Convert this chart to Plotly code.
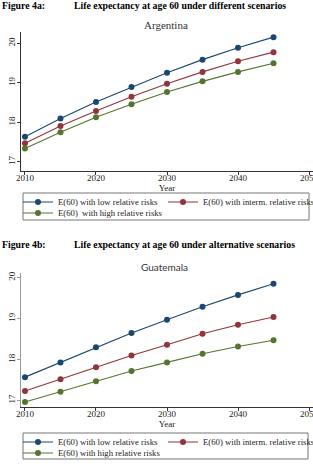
import plotly.graph_objects as go

W, H = 313, 469

years = [2010, 2015, 2020, 2025, 2030, 2035, 2040, 2045]

arg_low = [17.64, 18.10, 18.52, 18.90, 19.26, 19.59, 19.89, 20.16]
arg_mid = [17.47, 17.91, 18.29, 18.65, 18.98, 19.28, 19.55, 19.78]
arg_high = [17.34, 17.75, 18.13, 18.46, 18.77, 19.04, 19.28, 19.50]

gua_low = [17.57, 17.93, 18.30, 18.65, 18.97, 19.29, 19.58, 19.85]
gua_mid = [17.23, 17.52, 17.81, 18.10, 18.36, 18.63, 18.85, 19.04]
gua_high = [16.96, 17.21, 17.47, 17.72, 17.93, 18.14, 18.32, 18.47]

names_a = ["E(60) with low relative risks", "E(60) with interm. relative risks",
           "E(60)  with high relative risks"]
names_b = ["E(60) with low relative risks", "E(60) with interm. relative risks",
           "E(60) with high relative risks"]
colors = ["#1a476f", "#90353b", "#55752f"]

x_ticks = [2010, 2020, 2030, 2040, 2050]
y_ticks = [17, 18, 19, 20]


def py(px):
    return 1 - px / H


def pxx(px):
    return px / W


SERIF = "Liberation Serif, Times New Roman, serif"

fig = go.Figure()

legends = ["legend2", "legend3", "legend4", "legend5", "legend6", "legend7"]
series = [(arg_low, arg_mid, arg_high), (gua_low, gua_mid, gua_high)]
for p, (vals, names) in enumerate(zip(series, [names_a, names_b])):
    xa = "x" if p == 0 else "x2"
    ya = "y" if p == 0 else "y2"
    for i in range(3):
        fig.add_trace(go.Scatter(
            x=years, y=vals[i], mode="lines+markers", name=names[i],
            line=dict(color=colors[i], width=1.1),
            marker=dict(color=colors[i], size=6),
            xaxis=xa, yaxis=ya, legend=legends[p * 3 + i], showlegend=True,
        ))

axis_common = dict(
    showgrid=False, zeroline=False, showline=True, ticks="outside",
    ticklen=3, tickwidth=1, ticklabeloverflow="allow",
    tickfont=dict(family=SERIF, size=9, color="#222"),
)

fig.update_layout(
    width=W, height=H,
    margin=dict(l=0, r=0, t=0, b=0, autoexpand=False),
    paper_bgcolor="white", plot_bgcolor="white",
    xaxis=dict(domain=[pxx(21), 1], range=[2009.44, 2050.56], anchor="y",
               tickvals=x_ticks, linecolor="#333", tickcolor="#333", ticklabelstandoff=-5,
               title=dict(text="Year", font=dict(family=SERIF, size=9, color="#222"), standoff=0),
               **axis_common),
    yaxis=dict(domain=[py(171), py(32)], range=[16.77, 20.29], anchor="x",
               tickvals=y_ticks, tickangle=-90, linecolor="#333", tickcolor="#333",
               ticklabelstandoff=-2,
               **axis_common),
    xaxis2=dict(domain=[pxx(21), 1], range=[2009.44, 2050.56], anchor="y2",
                tickvals=x_ticks, linecolor="#333", tickcolor="#333", ticklabelstandoff=-5,
                title=dict(text="Year", font=dict(family=SERIF, size=9, color="#222"), standoff=0),
                **axis_common),
    yaxis2=dict(domain=[py(407), py(273)], range=[16.84, 20.115], anchor="x2",
                tickvals=y_ticks, tickangle=-90, linecolor="#999", tickcolor="#999",
                ticklabelstandoff=-2,
                **axis_common),
)

leg_font = dict(family=SERIF, size=8.7, color="#222")
leg_pos = [(18, 202), (163, 202), (18, 213), (18, 442), (163, 442), (18, 453)]
for name, (lx, ly) in zip(legends, leg_pos):
    fig.update_layout({name: dict(
        x=pxx(lx), y=py(ly), xanchor="left", yanchor="middle",
        bgcolor="rgba(0,0,0,0)", borderwidth=0, font=leg_font,
        itemwidth=30, orientation="h",
    )})

# legend frames
for (x0, y0, x1, y1) in [(23, 193, 309, 220), (23, 433, 308, 459)]:
    fig.add_shape(type="rect", xref="paper", yref="paper",
                  x0=pxx(x0), x1=pxx(x1), y0=py(y1), y1=py(y0),
                  line=dict(color="#777", width=1), fillcolor="rgba(0,0,0,0)",
                  layer="below")

HF = dict(family=SERIF, size=9.8, color="#000")
ann = [
    dict(text="<b>Figure 4a:</b>", x=0, y=6, font=HF, xanchor="left"),
    dict(text="<b>Life expectancy at age 60 under different scenarios</b>", x=72, y=6,
         font=HF, xanchor="left"),
    dict(text="<b>Figure 4b:</b>", x=0, y=244, font=HF, xanchor="left"),
    dict(text="<b>Life expectancy at age 60 under alternative scenarios</b>", x=72, y=244,
         font=HF, xanchor="left"),
    dict(text="Argentina", x=166, y=25, font=dict(family=SERIF, size=11, color="#333"), xanchor="center"),
    dict(text="Guatemala", x=164, y=267, font=dict(family="Lato, sans-serif", size=10, color="#333"), xanchor="center"),
]
for a in ann:
    fig.add_annotation(text=a["text"], x=pxx(a["x"]), y=py(a["y"]), xref="paper", yref="paper",
                       xanchor=a["xanchor"], yanchor="middle", showarrow=False, font=a["font"])

fig.write_html("out.html")
